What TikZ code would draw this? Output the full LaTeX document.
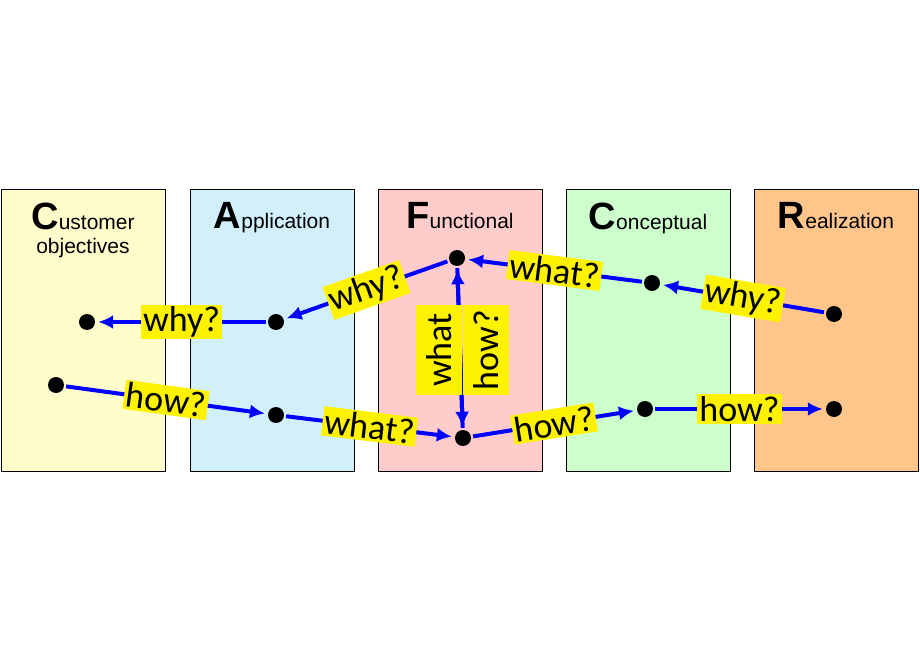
\documentclass[tikz,border=0pt]{standalone}
\usepackage{fontspec}
\setmainfont{Liberation Sans}
\newfontfamily\labelfont{Carlito}
\usetikzlibrary{arrows.meta}
\colorlet{myblue}{blue}
\tikzset{
  view/.style={draw=black,line width=0.6,minimum width=164,minimum height=282,inner sep=0,anchor=north west},
  dot/.style={circle,fill=black,minimum size=16,inner sep=0},
  connect arrow/.style={-{Latex[length=15,width=14]},line width=4,myblue,shorten <=2,shorten >=3},
  lab/.style={fill=yellow,text=black,font=\labelfont\fontsize{36}{36}\selectfont,inner sep=2},
  head/.style={anchor=north,align=center,font=\fontsize{21}{26}\selectfont}
}
\newcommand\bigletter[1]{{\fontsize{38}{38}\selectfont\textbf{#1}}}
\begin{document}
\begin{tikzpicture}[x=1pt,y=-1pt]
  \useasboundingbox (0,0) rectangle (920,660);
  % views
  \node[view,fill=yellow!20] (cust) at (1,189) {};
  \node[view,fill=cyan!18] (appl) at (190,189) {};
  \node[view,fill=red!20] (func) at (378,189) {};
  \node[view,fill=green!20] (conc) at (566,189) {};
  \node[view,fill=orange!45] (real) at (754,189) {};
  \node[head] at (83,199) {\bigletter{C}ustomer\\[-2pt]objectives};
  \node[head] at (272,199) {\bigletter{A}pplication};
  \node[head] at (460,199) {\bigletter{F}unctional};
  \node[head] at (648,199) {\bigletter{C}onceptual};
  \node[head] at (836,199) {\bigletter{R}ealization};
  % dots
  \node[dot] (c1) at (87,322) {};
  \node[dot] (c2) at (56,385) {};
  \node[dot] (a1) at (276,322) {};
  \node[dot] (a2) at (276,415) {};
  \node[dot] (f1) at (457,258) {};
  \node[dot] (f2) at (463,438) {};
  \node[dot] (k1) at (652,283) {};
  \node[dot] (k2) at (645,409) {};
  \node[dot] (r1) at (834,314) {};
  \node[dot] (r2) at (834,409) {};
  % why chain
  \draw[connect arrow] (r1) -- (k1) node[lab,midway,sloped] {why?};
  \draw[connect arrow] (k1) -- (f1) node[lab,midway,sloped] {what?};
  \draw[connect arrow] (f1) -- (a1) node[lab,midway,sloped] {why?};
  \draw[connect arrow] (a1) -- (c1) node[lab,midway] {why?};
  % how chain
  \draw[connect arrow] (c2) -- (a2) node[lab,midway,sloped] {how?};
  \draw[connect arrow] (a2) -- (f2) node[lab,midway,sloped] {what?};
  \draw[connect arrow] (f2) -- (k2) node[lab,midway,sloped] {how?};
  \draw[connect arrow] (k2) -- (r2) node[lab,midway] {how?};
  % inside functional
  \draw[connect arrow] (f2) -- (f1);
  \draw[connect arrow] (f1) -- (f2);
  \node[lab,rotate=90,minimum height=46,minimum width=90] (whatlab) at (439,350) {what};
  \node[lab,rotate=90,minimum height=46,minimum width=90] (howlab) at (486,350) {how?};
\end{tikzpicture}
\end{document}
